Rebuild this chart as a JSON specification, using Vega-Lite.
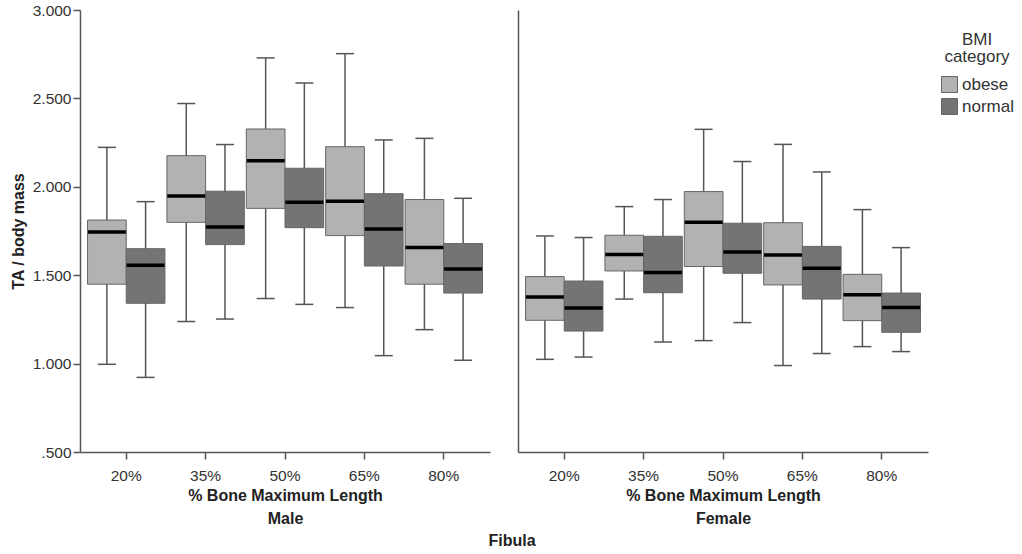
{
  "$schema": "https://vega.github.io/schema/vega-lite/v6.json",
  "background": "white",
  "padding": {"left": 10, "top": 3, "right": 4, "bottom": 4},
  "title": {"text": "Fibula", "orient": "bottom", "anchor": "middle", "font": "Liberation Sans", "fontSize": 16, "fontWeight": "bold", "color": "#222", "offset": 6},
  "spacing": 28,
  "data": {"values": [
    {"sex": "Male", "pos": "20%", "bmi": "obese", "low": 0.996, "q1": 1.449, "median": 1.744, "q3": 1.812, "high": 2.223},
    {"sex": "Male", "pos": "20%", "bmi": "normal", "low": 0.922, "q1": 1.341, "median": 1.556, "q3": 1.650, "high": 1.916},
    {"sex": "Male", "pos": "35%", "bmi": "obese", "low": 1.238, "q1": 1.799, "median": 1.948, "q3": 2.176, "high": 2.471},
    {"sex": "Male", "pos": "35%", "bmi": "normal", "low": 1.252, "q1": 1.673, "median": 1.773, "q3": 1.975, "high": 2.239},
    {"sex": "Male", "pos": "50%", "bmi": "obese", "low": 1.368, "q1": 1.878, "median": 2.148, "q3": 2.327, "high": 2.729},
    {"sex": "Male", "pos": "50%", "bmi": "normal", "low": 1.335, "q1": 1.769, "median": 1.912, "q3": 2.105, "high": 2.587},
    {"sex": "Male", "pos": "65%", "bmi": "obese", "low": 1.317, "q1": 1.724, "median": 1.918, "q3": 2.227, "high": 2.753},
    {"sex": "Male", "pos": "65%", "bmi": "normal", "low": 1.045, "q1": 1.552, "median": 1.761, "q3": 1.961, "high": 2.265},
    {"sex": "Male", "pos": "80%", "bmi": "obese", "low": 1.192, "q1": 1.449, "median": 1.656, "q3": 1.928, "high": 2.274},
    {"sex": "Male", "pos": "80%", "bmi": "normal", "low": 1.019, "q1": 1.399, "median": 1.535, "q3": 1.679, "high": 1.935},
    {"sex": "Female", "pos": "20%", "bmi": "obese", "low": 1.024, "q1": 1.245, "median": 1.377, "q3": 1.492, "high": 1.722},
    {"sex": "Female", "pos": "20%", "bmi": "normal", "low": 1.037, "q1": 1.184, "median": 1.314, "q3": 1.467, "high": 1.713},
    {"sex": "Female", "pos": "35%", "bmi": "obese", "low": 1.365, "q1": 1.524, "median": 1.617, "q3": 1.726, "high": 1.888},
    {"sex": "Female", "pos": "35%", "bmi": "normal", "low": 1.122, "q1": 1.401, "median": 1.515, "q3": 1.720, "high": 1.928},
    {"sex": "Female", "pos": "50%", "bmi": "obese", "low": 1.130, "q1": 1.549, "median": 1.799, "q3": 1.973, "high": 2.325},
    {"sex": "Female", "pos": "50%", "bmi": "normal", "low": 1.232, "q1": 1.511, "median": 1.631, "q3": 1.794, "high": 2.143},
    {"sex": "Female", "pos": "65%", "bmi": "obese", "low": 0.989, "q1": 1.445, "median": 1.614, "q3": 1.797, "high": 2.240},
    {"sex": "Female", "pos": "65%", "bmi": "normal", "low": 1.057, "q1": 1.365, "median": 1.539, "q3": 1.663, "high": 2.084},
    {"sex": "Female", "pos": "80%", "bmi": "obese", "low": 1.096, "q1": 1.243, "median": 1.390, "q3": 1.505, "high": 1.871},
    {"sex": "Female", "pos": "80%", "bmi": "normal", "low": 1.068, "q1": 1.177, "median": 1.317, "q3": 1.399, "high": 1.656}
  ]},
  "hconcat": [
    {
      "width": 410,
      "height": 442,
      "transform": [{"filter": "datum.sex == 'Male'"}],
      "encoding": {
        "x": {"field": "pos", "type": "nominal", "sort": ["20%", "35%", "50%", "65%", "80%"],
              "scale": {"paddingInner": 0.025, "paddingOuter": 0.095},
              "axis": {"title": ["% Bone Maximum Length", "Male"], "labelAngle": 0}},
        "xOffset": {"field": "bmi", "type": "nominal", "sort": ["obese", "normal"], "scale": {"paddingInner": 0, "paddingOuter": 0}}
      },
      "layer": [
        {"mark": {"type": "rule", "color": "#555555", "strokeWidth": 1.5},
         "encoding": {"y": {"field": "low", "type": "quantitative", "scale": {"domain": [0.5, 3.0], "nice": false, "zero": false},
                            "axis": {"title": "TA / body mass", "values": [0.5, 1, 1.5, 2, 2.5, 3], "labelExpr": "datum.value == 0.5 ? '.500' : format(datum.value, '.3f')"}},
                      "y2": {"field": "high"}}},
        {"mark": {"type": "tick", "color": "#555555", "thickness": 1.5, "size": 18, "opacity": 1},
         "encoding": {"y": {"field": "high", "type": "quantitative"}}},
        {"mark": {"type": "tick", "color": "#555555", "thickness": 1.5, "size": 18, "opacity": 1},
         "encoding": {"y": {"field": "low", "type": "quantitative"}}},
        {"mark": {"type": "bar", "stroke": "#666666", "strokeWidth": 1, "opacity": 1},
         "encoding": {"y": {"field": "q1", "type": "quantitative"}, "y2": {"field": "q3"},
                      "color": {"field": "bmi", "type": "nominal", "sort": ["obese", "normal"],
                                "scale": {"domain": ["obese", "normal"], "range": ["#b2b2b2", "#747474"]},
                                "legend": {"title": ["BMI", "category"], "orient": "none", "legendX": 861, "legendY": 22}}}},
        {"mark": {"type": "tick", "color": "#000000", "thickness": 3.5, "size": 38, "opacity": 1},
         "encoding": {"y": {"field": "median", "type": "quantitative"}}}
      ]
    },
    {
      "width": 410,
      "height": 442,
      "transform": [{"filter": "datum.sex == 'Female'"}],
      "encoding": {
        "x": {"field": "pos", "type": "nominal", "sort": ["20%", "35%", "50%", "65%", "80%"],
              "scale": {"paddingInner": 0.025, "paddingOuter": 0.095},
              "axis": {"title": ["% Bone Maximum Length", "Female"], "labelAngle": 0}},
        "xOffset": {"field": "bmi", "type": "nominal", "sort": ["obese", "normal"], "scale": {"paddingInner": 0, "paddingOuter": 0}}
      },
      "layer": [
        {"mark": {"type": "rule", "color": "#555555", "strokeWidth": 1.5},
         "encoding": {"y": {"field": "low", "type": "quantitative", "scale": {"domain": [0.5, 3.0], "nice": false, "zero": false},
                            "axis": {"title": null, "labels": false, "ticks": false, "values": [0.5, 1, 1.5, 2, 2.5, 3]}},
                      "y2": {"field": "high"}}},
        {"mark": {"type": "tick", "color": "#555555", "thickness": 1.5, "size": 18, "opacity": 1},
         "encoding": {"y": {"field": "high", "type": "quantitative"}}},
        {"mark": {"type": "tick", "color": "#555555", "thickness": 1.5, "size": 18, "opacity": 1},
         "encoding": {"y": {"field": "low", "type": "quantitative"}}},
        {"mark": {"type": "bar", "stroke": "#666666", "strokeWidth": 1, "opacity": 1},
         "encoding": {"y": {"field": "q1", "type": "quantitative"}, "y2": {"field": "q3"},
                      "color": {"field": "bmi", "type": "nominal", "sort": ["obese", "normal"],
                                "scale": {"domain": ["obese", "normal"], "range": ["#b2b2b2", "#747474"]},
                                "legend": {"title": ["BMI", "category"], "orient": "none", "legendX": 861, "legendY": 22}}}},
        {"mark": {"type": "tick", "color": "#000000", "thickness": 3.5, "size": 38, "opacity": 1},
         "encoding": {"y": {"field": "median", "type": "quantitative"}}}
      ]
    }
  ],
  "resolve": {"scale": {"color": "shared"}},
  "config": {
    "view": {"stroke": null},
    "font": "Liberation Sans",
    "axis": {
      "grid": false,
      "domainColor": "#555555",
      "domainWidth": 1.5,
      "tickColor": "#555555",
      "tickWidth": 1.5,
      "tickSize": 7,
      "labelFont": "Liberation Sans",
      "labelFontSize": 15.5,
      "labelColor": "#333333",
      "labelPadding": 2,
      "titleFont": "Liberation Sans",
      "titleFontSize": 16,
      "titleFontWeight": "bold",
      "titleColor": "#222222"
    },
    "axisX": {"titlePadding": 4, "titleLineHeight": 23, "labelPadding": 9},
    "axisY": {"titlePadding": 6},
    "legend": {
      "padding": 0,
      "titleFont": "Liberation Sans",
      "titleFontSize": 17,
      "titleFontWeight": "normal",
      "titleColor": "#333333",
      "titleAlign": "center",
      "titleAnchor": "middle",
      "titleLineHeight": 17,
      "titlePadding": 10,
      "labelFont": "Liberation Sans",
      "labelFontSize": 17,
      "labelColor": "#333333",
      "labelOffset": 4,
      "symbolType": "square",
      "symbolSize": 256,
      "symbolStrokeColor": "#666666",
      "symbolStrokeWidth": 1,
      "symbolOpacity": 1,
      "rowPadding": 1
    }
  }
}
